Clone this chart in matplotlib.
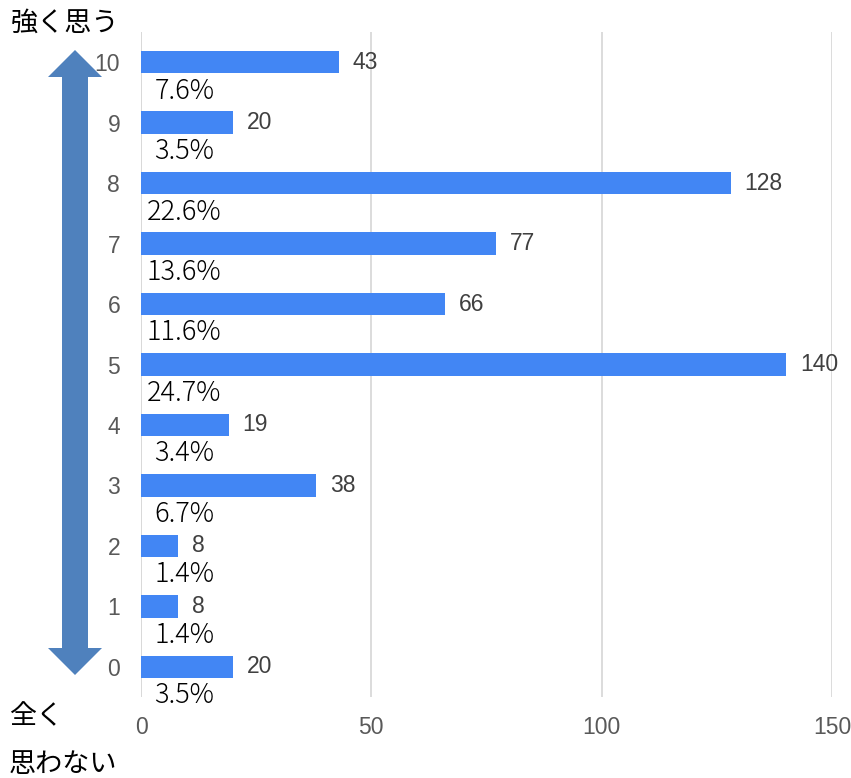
import matplotlib
matplotlib.use("Agg")
import matplotlib.pyplot as plt
from matplotlib.patches import Polygon

categories = ["0", "1", "2", "3", "4", "5", "6", "7", "8", "9", "10"]
counts = [20, 8, 8, 38, 19, 140, 66, 77, 128, 20, 43]
percents = ["3.5%", "1.4%", "1.4%", "6.7%", "3.4%", "24.7%", "11.6%", "13.6%", "22.6%", "3.5%", "7.6%"]
xticks = [0, 50, 100, 150]
top_label = "強く思う"
bottom_label = ["全く", "思わない"]

plt.rcParams['font.family'] = ['Noto Sans CJK JP', 'DejaVu Sans']

pct_family = ['Noto Sans CJK JP', 'DejaVu Sans']
num_family = ['Liberation Sans', 'DejaVu Sans']

W, H = 851, 778
fig = plt.figure(figsize=(W / 100, H / 100), dpi=100)
ax = fig.add_axes([141 / W, (H - 697) / H, 691 / W, 665 / H])

ypos = list(range(len(categories)))
ax.barh(ypos, counts, height=0.37, color="#4286F4", zorder=3)
ax.set_xlim(0, 150)
ax.set_ylim(-0.5, 10.5)
ax.set_xticks(xticks)
ax.set_xticklabels([str(t) for t in xticks], family=num_family, fontsize=16.5, color="#595959")
ax.set_yticks(ypos)
ax.set_yticklabels(categories, family=num_family, fontsize=16.5, color="#595959")
ax.tick_params(axis='both', length=0)
ax.tick_params(axis='y', pad=15)
ax.tick_params(axis='x', pad=14)
ax.grid(axis='x', color="#D9D9D9", linewidth=1.3, zorder=0)
for s in ax.spines.values():
    s.set_visible(False)
ax.axvline(0, color="#D9D9D9", linewidth=1.3, zorder=1)

for y, c, p in zip(ypos, counts, percents):
    ax.text(c + 3.0, y, str(c), va='center', ha='left', family=num_family,
            fontsize=16.5, color="#404040")
    ax.text(9.4, y - 0.47, p, va='center', ha='center', family=pct_family,
            fontsize=19.5, fontweight='light', color="#000000")

# double-headed arrow in figure pixel coordinates
def fx(px):
    return px / W

def fy(py):
    return 1 - py / H

col = "#4F81BD"
cx = 75
top_tip, bot_tip = 50, 675
head_len = 27
shaft_w = 26
head_w = 54
pts_px = [
    (cx, top_tip),
    (cx + head_w / 2, top_tip + head_len),
    (cx + shaft_w / 2, top_tip + head_len),
    (cx + shaft_w / 2, bot_tip - head_len),
    (cx + head_w / 2, bot_tip - head_len),
    (cx, bot_tip),
    (cx - head_w / 2, bot_tip - head_len),
    (cx - shaft_w / 2, bot_tip - head_len),
    (cx - shaft_w / 2, top_tip + head_len),
    (cx - head_w / 2, top_tip + head_len),
]
arrow = Polygon([(fx(x), fy(y)) for x, y in pts_px], closed=True,
                facecolor=col, edgecolor='none', transform=fig.transFigure)
fig.add_artist(arrow)

fig.text(fx(11), fy(23), top_label, fontsize=19.5, va='center', ha='left', color="#000000")
fig.text(fx(9), fy(717), bottom_label[0], fontsize=19.5, va='center', ha='left', color="#000000")
fig.text(fx(9), fy(764), bottom_label[1], fontsize=19.5, va='center', ha='left', color="#000000")

fig.savefig("out.png", dpi=100)
